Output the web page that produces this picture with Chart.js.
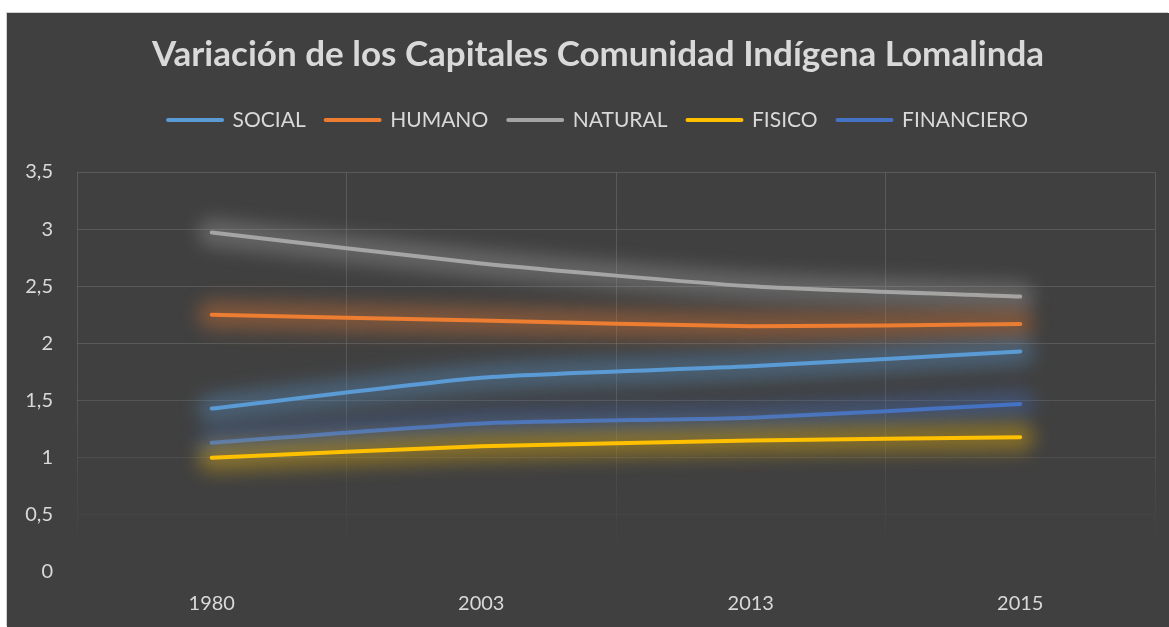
<!DOCTYPE html>
<html>
<head>
<meta charset="utf-8">
<script src="https://cdn.jsdelivr.net/npm/chart.js@4.4.0/dist/chart.umd.min.js"></script>
<style>
  html, body { margin: 0; padding: 0; background: #ffffff; }
  #wrap { position: absolute; left: 7px; top: 13px; width: 1162px; height: 614px; background: #404040; box-shadow: -1px -1px 0 #d0d0d0; }
  canvas { display: block; }
</style>
</head>
<body>
<div id="wrap"><canvas id="c"></canvas></div>
<script>
// ---- data ----
const categories = ['1980', '2003', '2013', '2015'];
const social     = [1.43, 1.70, 1.80, 1.93];
const humano     = [2.25, 2.20, 2.15, 2.17];
const natural    = [2.97, 2.70, 2.50, 2.41];
const fisico     = [1.00, 1.10, 1.15, 1.18];
const financiero = [1.13, 1.30, 1.35, 1.47];
const seriesNames = ['SOCIAL', 'HUMANO', 'NATURAL', 'FISICO', 'FINANCIERO'];
const yTicks = [0, 0.5, 1, 1.5, 2, 2.5, 3, 3.5];
const titleText = 'Variación de los Capitales Comunidad Indígena Lomalinda';

const colors = ['#5B9BD5', '#ED7D31', '#A5A5A5', '#FFC000', '#4472C4'];
const seriesValues = [social, humano, natural, fisico, financiero];

function rgba(hex, a) {
  const n = parseInt(hex.slice(1), 16);
  return `rgba(${(n >> 16) & 255},${(n >> 8) & 255},${n & 255},${a})`;
}

const glowPlugin = {
  id: 'glow',
  beforeDatasetDraw(chart, args) {
    const meta = args.meta;
    const ctx = chart.ctx;
    const color = chart.data.datasets[args.index].borderColor;
    ctx.save();
    ctx.filter = 'blur(9px)';
    ctx.strokeStyle = rgba(color, 0.36);
    ctx.lineWidth = 28;
    ctx.lineCap = 'round';
    ctx.lineJoin = 'round';
    ctx.beginPath();
    meta.dataset.path(ctx);
    ctx.stroke();
    ctx.restore();
  }
};

const el = document.getElementById('c');
const chart = new Chart(el, {
  type: 'line',
  data: {
    labels: categories,
    datasets: seriesNames.map((name, i) => ({
      label: name,
      data: seriesValues[i],
      borderColor: colors[i],
      backgroundColor: colors[i],
      borderWidth: 4,
      borderCapStyle: 'round',
      borderJoinStyle: 'round',
      pointRadius: 0,
      pointHoverRadius: 0,
      tension: 0.2,
      fill: false
    }))
  },
  options: {
    responsive: true,
    maintainAspectRatio: false,
    animation: false,
    layout: { padding: { left: 34, right: 14, top: 0, bottom: 0 } },
    plugins: {
      tooltip: { enabled: false },
      title: {
        display: true,
        text: titleText,
        color: '#D9D9D9',
        font: { family: 'Lato', size: 35, weight: 'bold', lineHeight: 1.2 },
        padding: { top: 21, bottom: 13.5 }
      },
      subtitle: {
        display: true,
        text: ' ',
        weight: 500,
        font: { size: 10, lineHeight: 1 },
        padding: { top: 21.5, bottom: 0 }
      },
      legend: {
        display: true,
        position: 'top',
        labels: {
          color: '#D9D9D9',
          font: { family: 'Lato', size: 21 },
          usePointStyle: true,
          pointStyle: 'line',
          pointStyleWidth: 54,
          padding: 20,
          generateLabels(ch) {
            return ch.data.datasets.map((ds, i) => ({
              text: ds.label,
              fillStyle: ds.borderColor,
              strokeStyle: ds.borderColor,
              lineWidth: 4,
              lineCap: 'round',
              pointStyle: 'line',
              fontColor: '#D9D9D9',
              hidden: false,
              datasetIndex: i
            }));
          }
        }
      }
    },
    scales: {
      x: {
        offset: true,
        grid: {
          offset: true,
          drawTicks: false,
          lineWidth: 1,
          color(ctx) {
            const ch = ctx.chart;
            const a = ch.chartArea;
            if (!a) return '#595959';
            const g = ch.ctx.createLinearGradient(0, a.top, 0, a.bottom);
            g.addColorStop(0, 'rgba(110,110,110,0.55)');
            g.addColorStop(0.55, 'rgba(110,110,110,0.5)');
            g.addColorStop(0.95, 'rgba(110,110,110,0)');
            g.addColorStop(1, 'rgba(110,110,110,0)');
            return g;
          }
        },
        border: { display: false },
        ticks: {
          color: '#D9D9D9',
          font: { family: 'Lato', size: 20 },
          padding: 20
        },
        afterFit(scale) { scale.height = 55; }
      },
      y: {
        min: 0,
        max: 3.5,
        afterBuildTicks(scale) { scale.ticks = yTicks.map(v => ({ value: v })); },
        grid: {
          drawTicks: false,
          lineWidth: 1,
          color(ctx) {
            const v = ctx.tick ? ctx.tick.value : 0;
            let a = 0.55;
            if (v <= 0) a = 0;
            else if (v <= 0.5) a = 0.12;
            else if (v <= 1) a = 0.3;
            else if (v <= 1.5) a = 0.45;
            return `rgba(110,110,110,${a})`;
          }
        },
        border: { display: false },
        ticks: {
          color: '#D9D9D9',
          font: { family: 'Lato', size: 20 },
          padding: 24,
          callback: (v) => String(v).replace('.', ',')
        },
        afterFit(scale) {
          scale.width = 36;
          scale._computeLabelArea = () => undefined;
        }
      }
    }
  },
  plugins: [glowPlugin]
});
</script>
</body>
</html>
